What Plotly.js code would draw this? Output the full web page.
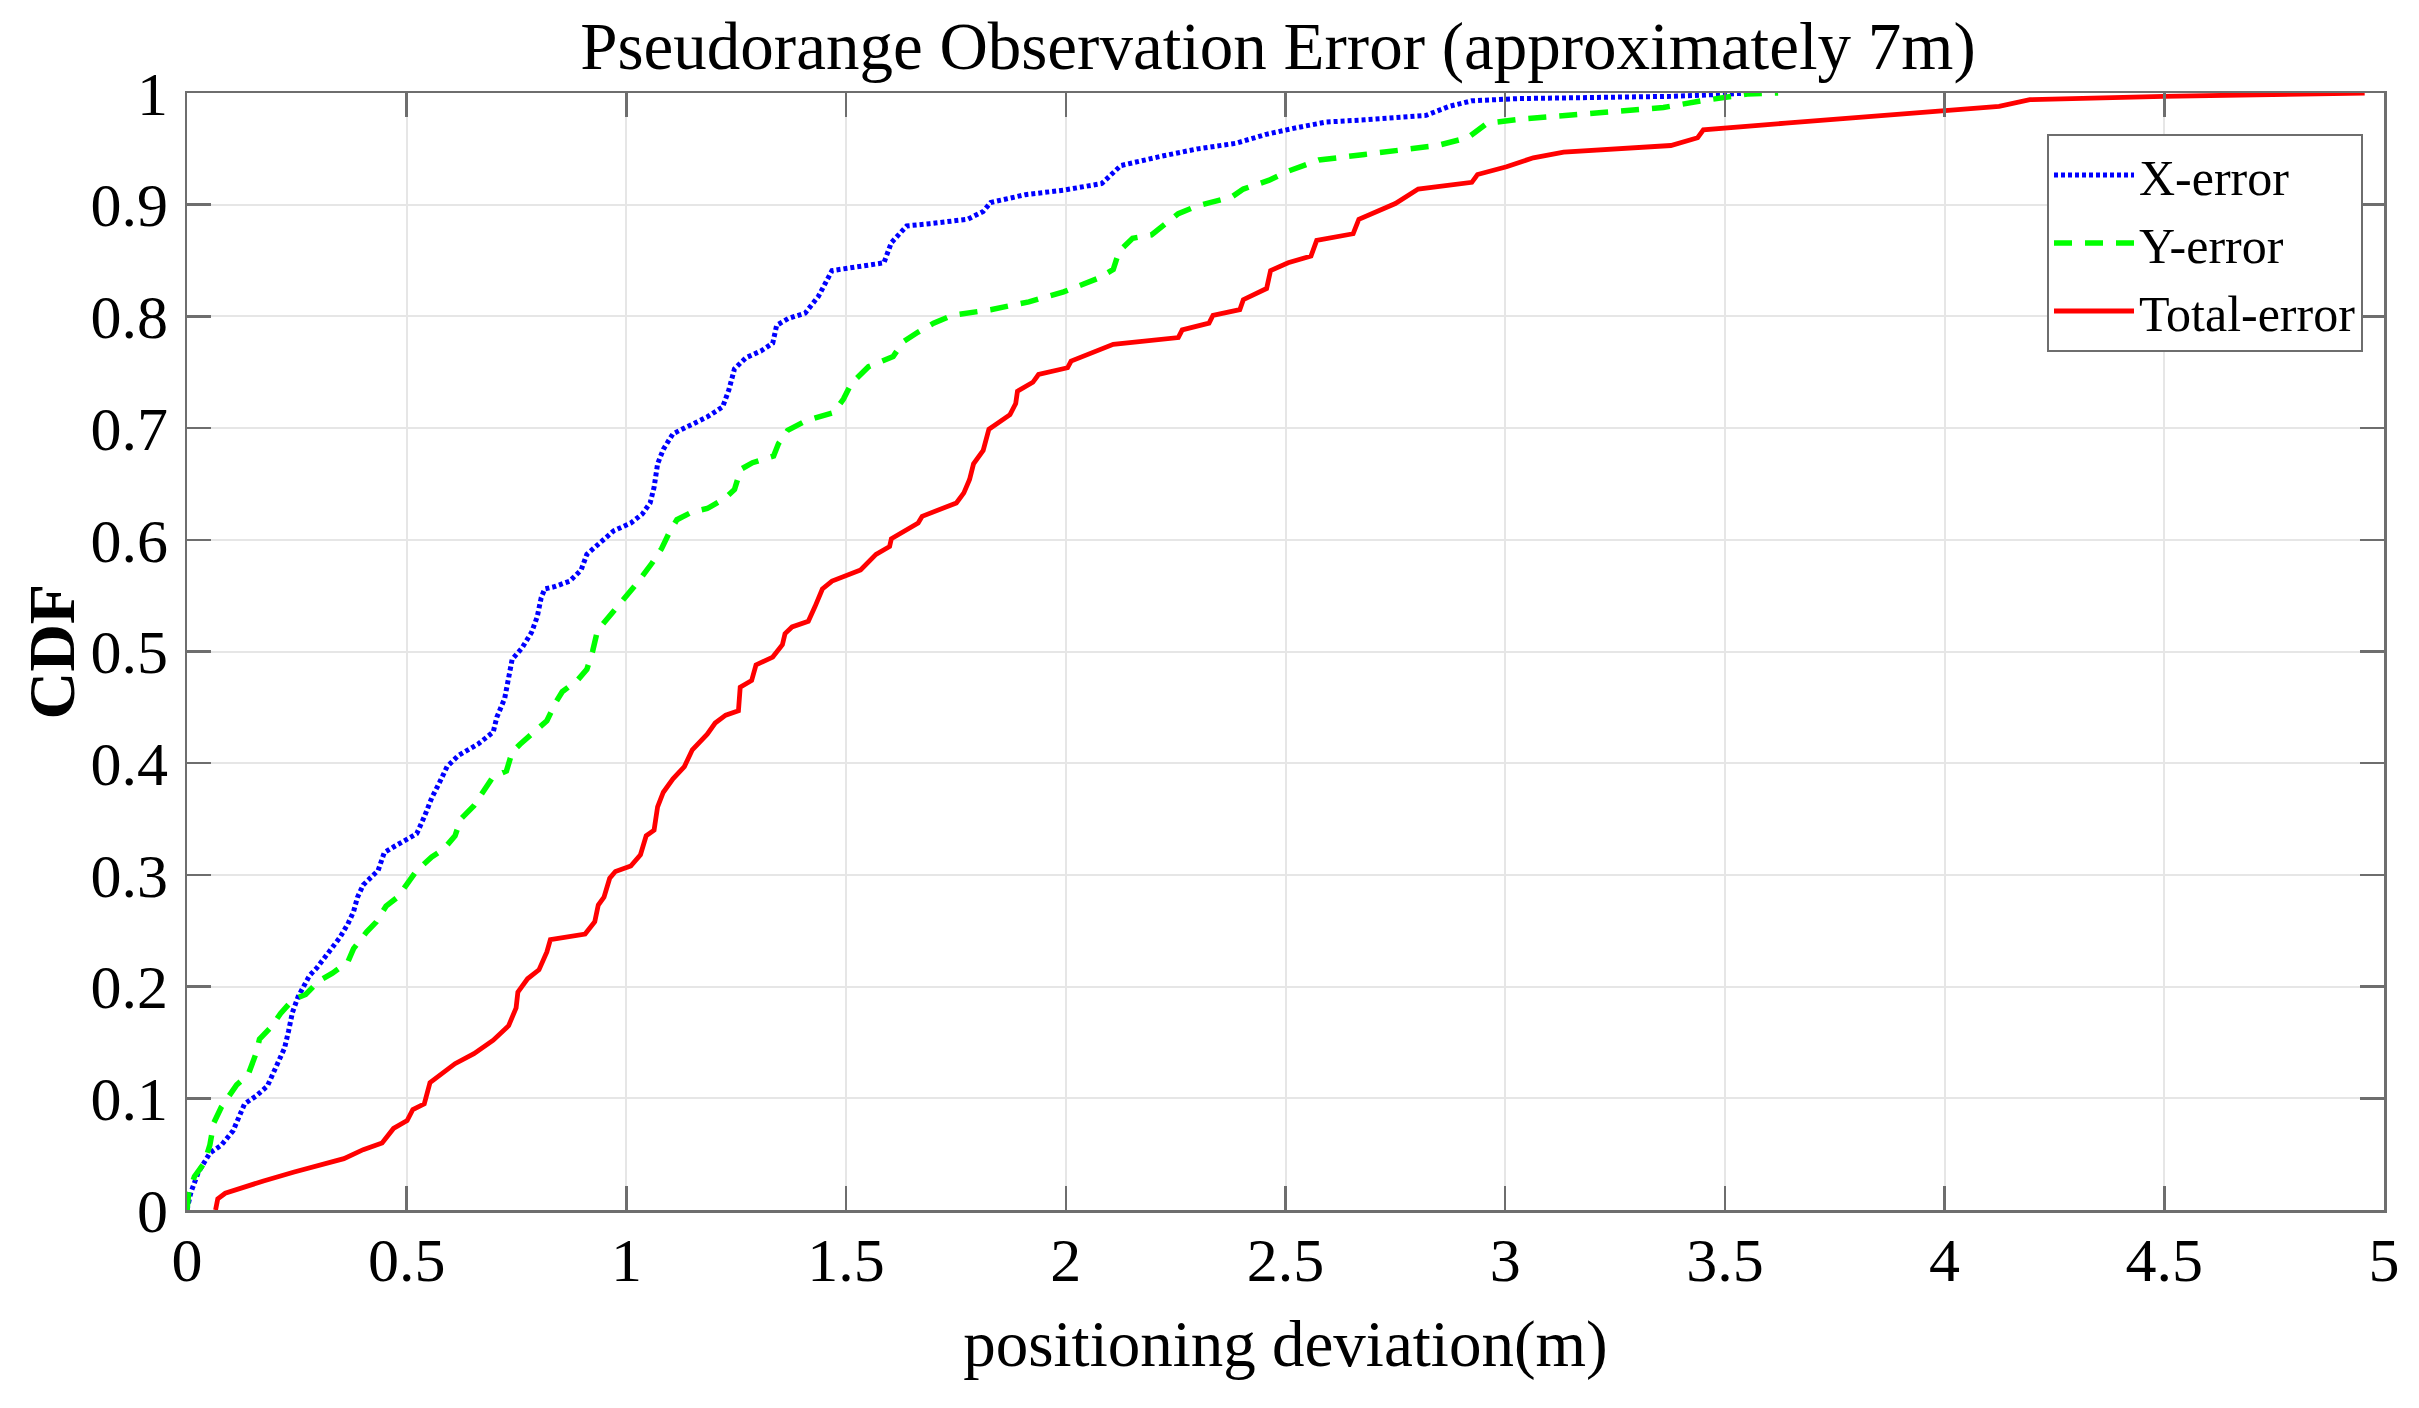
<!DOCTYPE html>
<html>
<head>
<meta charset="utf-8">
<script src="https://cdn.plot.ly/plotly-3.0.1.min.js"></script>
<style>html,body{margin:0;padding:0;background:#fff;}#chart{width:2419px;height:1408px;}</style>
</head>
<body>
<div id="chart"></div>
<script>
// ---- data ----
const xErrX = [0, .009, .026, .052, .078, .105, .131, .157, .183, .200, .222, .231, .240, .253, .279, .296, .322, .348, .366, .379, .388, .401, .435, .449, .470, .523, .540, .557, .575, .592, .618, .662, .697, .705, .723, .732, .740, .762, .784, .797, .806, .814, .836, .871, .897, .910, .941, .971, 1.010, 1.036, 1.054, 1.063, 1.071, 1.084, 1.106, 1.141, 1.184, 1.219, 1.233, 1.246, 1.272, 1.306, 1.333, 1.342, 1.368, 1.407, 1.437, 1.468, 1.516, 1.586, 1.603, 1.638, 1.690, 1.777, 1.812, 1.829, 1.908, 1.995, 2.082, 2.125, 2.213, 2.300, 2.387, 2.456, 2.526, 2.593, 2.680, 2.820, 2.872, 2.924, 3.029, 3.203, 3.377, 3.508, 3.551];
const xErrY = [0, .016, .034, .051, .058, .071, .095, .102, .111, .126, .145, .160, .177, .191, .210, .217, .231, .244, .256, .267, .280, .291, .304, .320, .325, .337, .352, .369, .383, .397, .407, .417, .428, .441, .458, .479, .493, .503, .517, .531, .548, .556, .558, .563, .573, .587, .597, .608, .615, .623, .633, .647, .668, .681, .695, .702, .710, .719, .734, .753, .763, .769, .776, .792, .798, .803, .818, .841, .844, .848, .866, .881, .883, .887, .894, .902, .909, .913, .919, .935, .943, .950, .955, .963, .969, .974, .976, .980, .988, .993, .995, .996, .997, .999, 1.0];

const yErrX = [0, .004, .017, .039, .052, .061, .078, .087, .113, .139, .157, .165, .192, .213, .240, .270, .300, .331, .366, .379, .409, .431, .453, .479, .505, .523, .557, .584, .610, .623, .653, .671, .697, .727, .740, .758, .793, .819, .840, .854, .888, .910, .923, .932, .941, .967, 1.006, 1.028, 1.058, 1.080, 1.097, 1.115, 1.150, 1.184, 1.224, 1.246, 1.260, 1.287, 1.335, 1.346, 1.367, 1.411, 1.472, 1.494, 1.512, 1.551, 1.607, 1.629, 1.664, 1.699, 1.742, 1.829, 1.916, 1.995, 2.073, 2.108, 2.121, 2.152, 2.195, 2.230, 2.256, 2.300, 2.378, 2.404, 2.463, 2.506, 2.576, 2.680, 2.785, 2.846, 2.915, 2.959, 3.046, 3.159, 3.247, 3.360, 3.447, 3.508, 3.551, 3.621];
const yErrY = [0, .016, .030, .042, .058, .078, .092, .097, .112, .121, .140, .153, .164, .176, .188, .193, .205, .212, .222, .234, .249, .258, .272, .280, .294, .304, .316, .323, .335, .350, .362, .373, .388, .393, .410, .417, .429, .438, .455, .464, .474, .484, .500, .515, .522, .534, .553, .563, .579, .592, .606, .618, .625, .628, .637, .645, .663, .669, .675, .686, .698, .707, .714, .726, .740, .755, .764, .777, .786, .794, .801, .806, .813, .822, .834, .842, .858, .870, .873, .884, .892, .899, .907, .914, .922, .930, .940, .945, .950, .953, .960, .973, .977, .981, .983, .987, .993, .996, .999, 1.0];

const totErrX = [.065, .070, .087, .131, .174, .244, .296, .357, .401, .444, .470, .501, .514, .540, .553, .575, .610, .653, .697, .732, .749, .753, .775, .801, .819, .827, .906, .928, .936, .949, .962, .975, 1.010, 1.032, 1.045, 1.063, 1.071, 1.084, 1.106, 1.132, 1.150, 1.184, 1.202, 1.226, 1.255, 1.259, 1.285, 1.295, 1.333, 1.355, 1.361, 1.377, 1.414, 1.429, 1.446, 1.468, 1.533, 1.568, 1.599, 1.603, 1.664, 1.673, 1.751, 1.768, 1.781, 1.790, 1.812, 1.825, 1.842, 1.873, 1.886, 1.890, 1.925, 1.938, 2.004, 2.012, 2.108, 2.256, 2.265, 2.326, 2.335, 2.396, 2.404, 2.457, 2.466, 2.506, 2.558, 2.571, 2.654, 2.667, 2.750, 2.802, 2.924, 2.937, 3.003, 3.064, 3.133, 3.377, 3.438, 3.451, 3.638, 3.845, 4.002, 4.124, 4.194, 4.498, 4.956];
const totErrY = [0, .010, .015, .020, .026, .034, .040, .046, .054, .060, .073, .080, .090, .095, .114, .121, .131, .140, .152, .165, .181, .195, .207, .215, .231, .242, .247, .258, .273, .280, .297, .303, .308, .318, .335, .340, .361, .374, .386, .397, .412, .426, .436, .443, .447, .468, .474, .488, .495, .506, .516, .522, .527, .540, .556, .563, .573, .587, .594, .601, .615, .621, .633, .642, .654, .668, .680, .699, .704, .712, .722, .733, .741, .748, .754, .760, .775, .781, .788, .794, .801, .806, .815, .825, .841, .848, .854, .868, .874, .887, .901, .914, .920, .927, .934, .942, .947, .953, .960, .967, .973, .979, .984, .988, .994, .997, 1.0];

const seriesNames = ["X-error", "Y-error", "Total-error"];
const xTickVals = [0, 0.5, 1, 1.5, 2, 2.5, 3, 3.5, 4, 4.5, 5];
const xTickText = ["0", "0.5", "1", "1.5", "2", "2.5", "3", "3.5", "4", "4.5", "5"];
const yTickVals = [0, 0.1, 0.2, 0.3, 0.4, 0.5, 0.6, 0.7, 0.8, 0.9, 1];
const yTickText = ["0", "0.1", "0.2", "0.3", "0.4", "0.5", "0.6", "0.7", "0.8", "0.9", "1"];
const chartTitle = "Pseudorange Observation Error (approximately 7m)";
const xTitle = "positioning deviation(m)";
const yTitle = "CDF";

// ---- styling ----
const serif = "Liberation Serif, Times New Roman, serif";
const axisCol = "#6e6e6e";
const gridCol = "#e6e6e6";

const traces = [
  {x: xErrX, y: xErrY, name: seriesNames[0], type: "scatter", mode: "lines",
   line: {color: "#0000ff", width: 5, dash: "4px,3px"}},
  {x: yErrX, y: yErrY, name: seriesNames[1], type: "scatter", mode: "lines",
   line: {color: "#00ff00", width: 5.5, dash: "18px,13px"}},
  {x: totErrX, y: totErrY, name: seriesNames[2], type: "scatter", mode: "lines",
   line: {color: "#ff0000", width: 4.8}}
];

const axisCommon = {
  showline: true, linecolor: axisCol, linewidth: 2.5, mirror: "ticks",
  ticks: "inside", ticklen: 24, tickwidth: 2.5, tickcolor: axisCol,
  showgrid: true, gridcolor: gridCol, gridwidth: 2,
  zeroline: false, tickmode: "array",
  tickfont: {family: serif, size: 62, color: "#000"}
};

const layout = {
  width: 2419, height: 1408,
  paper_bgcolor: "#fff", plot_bgcolor: "#fff",
  margin: {l: 187, r: 35, t: 93, b: 198, autoexpand: false},
  showlegend: true,
  title: {text: chartTitle, font: {family: serif, size: 67, color: "#000"},
          x: (1278 - 187) / 2197, xanchor: "center", xref: "paper",
          y: 1 - 46 / 1408, yanchor: "middle", yref: "container"},
  xaxis: Object.assign({}, axisCommon, {
    range: [0, 5], tickvals: xTickVals, ticktext: xTickText,
    ticklabelstandoff: -6,
    title: {text: xTitle, font: {family: serif, size: 65, color: "#000"}, standoff: 28}
  }),
  yaxis: Object.assign({}, axisCommon, {
    range: [0, 1], tickvals: yTickVals, ticktext: yTickText,
    ticklabelstandoff: 4,
    title: {text: ""}
  }),
  annotations: [{
    text: "<b>" + yTitle + "</b>", xref: "paper", yref: "paper",
    x: (51 - 187) / 2197, y: 0.5, xanchor: "center", yanchor: "middle",
    textangle: -90, showarrow: false,
    font: {family: serif, size: 66, color: "#000"}
  }],
  legend: {
    x: (2047 - 187) / 2197, y: (1210 - 134) / 1117, xanchor: "left", yanchor: "top",
    bgcolor: "#fff", bordercolor: axisCol, borderwidth: 2,
    font: {family: serif, size: 50, color: "#000"},
    itemwidth: 80, tracegroupgap: 0
  }
};

Plotly.newPlot("chart", traces, layout, {staticPlot: true, displayModeBar: false});
</script>
</body>
</html>
